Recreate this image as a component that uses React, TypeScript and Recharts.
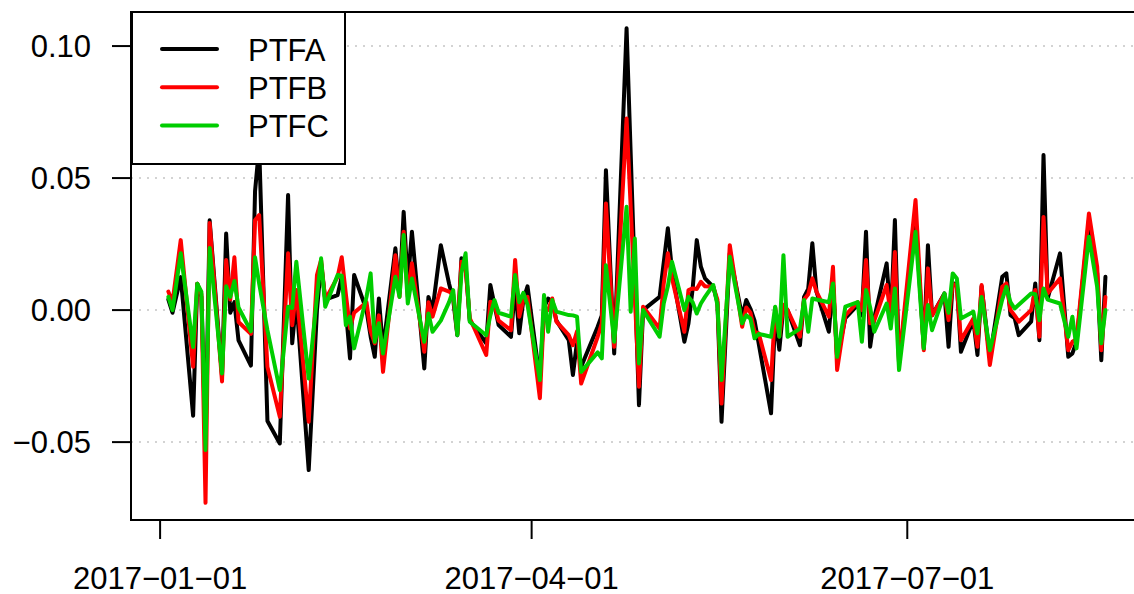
import React from 'react';
import { LineChart, Line, XAxis, YAxis, CartesianGrid, ReferenceArea, Legend } from 'recharts';

// observation days, counted from 2017-01-01 (day 0)
const obsDays = [
  2, 3, 5, 8, 9, 10, 11, 12, 15, 16, 17, 18, 19, 22, 23, 24,
  26, 29, 31, 32, 33, 36, 38, 39, 40, 43, 44, 45, 46, 47, 50, 51, 52, 53, 54,
  57, 58, 59, 60, 61, 64, 65, 66, 68, 70, 71, 72, 73, 74, 75, 79, 80, 81, 82, 85, 86, 87, 88, 89,
  92, 93, 94, 95, 96, 99, 100, 101, 102, 106, 107, 108, 110, 113, 114, 115, 116, 117,
  121, 122, 123, 124, 127, 128, 129, 130, 131, 132, 134, 135, 136, 138, 141, 142, 143, 144, 145, 148, 149, 150, 151, 152,
  155, 156, 157, 158, 159, 162, 163, 164, 166, 169, 170, 171, 172, 173, 176, 177, 178, 179, 183,
  185, 186, 187, 190, 191, 192, 193, 194, 197, 198, 199, 201, 204, 205, 206, 207, 208, 211, 212, 213, 214, 215,
  218, 220, 221, 222, 225, 227, 228, 229,
];

const ptfa = [
  0.004, -0.001, 0.0125, -0.04, 0.01, 0.005, -0.05, 0.034, -0.025, 0.029, -0.001, 0.003, -0.0115, -0.021, 0.045, 0.062,
  -0.042, -0.0505, 0.0436, -0.0126, 0.004, -0.0606, 0.0, 0.0177, 0.004, 0.0057, 0.0126, 0.0, -0.0183, 0.0133, 0.0, -0.01, -0.0177, 0.0044, -0.015,
  0.0234, 0.0064, 0.0372, 0.01, 0.0297, -0.0221, 0.005, 0.0, 0.0246, 0.01, 0.004, -0.0095, 0.0196, 0.017, -0.0038, -0.0126, 0.0095, 0.002, -0.0057, -0.0101, 0.009, -0.0088, 0.004, 0.009,
  -0.0265, 0.001, 0.0044, 0.003, -0.004, -0.0114, -0.0246, -0.012, -0.0215, -0.0063, -0.002, 0.053, -0.0164, 0.1067, 0.059, 0.012, -0.036, 0.0,
  0.005, 0.018, 0.031, 0.015, -0.012, -0.005, 0.008, 0.0265, 0.0164, 0.012, 0.0088, 0.003, -0.0423, 0.0215, -0.0025, 0.0038, 0.0005, -0.004, -0.0126, -0.0391, -0.002, -0.015, 0.0013, 0.0,
  -0.0133, 0.005, 0.008, 0.0253, 0.007, -0.0082, 0.01, -0.018, -0.003, 0.002, -0.002, 0.0297, -0.0139, -0.003, 0.0177, -0.004, 0.0341, -0.02, 0.035,
  -0.0145, 0.0246, -0.002, 0.0063, -0.0139, 0.0101, 0.01, -0.0158, -0.0038, -0.017, 0.009, -0.018, 0.0126, 0.0139, -0.0019, -0.003, -0.0095, -0.0044, 0.0101, -0.0114, 0.0587, 0.0044,
  0.0215, -0.0177, -0.0164, -0.012, 0.034, 0.0139, -0.019, 0.0126,
];

const ptfb = [
  0.007, 0.003, 0.0265, -0.0215, 0.01, 0.006, -0.073, 0.033, -0.027, 0.019, 0.004, 0.02, -0.0045, -0.009, 0.034, 0.036,
  -0.0215, -0.0404, 0.0215, -0.0057, 0.0076, -0.0423, 0.0133, 0.019, 0.0038, 0.0126, 0.02, 0.006, -0.007, -0.001, 0.003, -0.008, -0.0126, -0.002, -0.0234,
  0.0208, 0.005, 0.0297, 0.005, 0.0177, -0.0158, 0.003, -0.0025, 0.0082, 0.007, 0.006, -0.009, 0.0183, 0.016, -0.003, -0.017, 0.0032, 0.002, -0.004, -0.0076, 0.019, -0.0025, 0.004, 0.005,
  -0.0334, 0.0, 0.0, 0.0044, -0.0044, -0.0095, -0.0133, -0.008, -0.0278, -0.0101, -0.005, 0.0404, -0.0139, 0.0726, 0.039, 0.005, -0.029, 0.0013,
  -0.007, 0.01, 0.0215, 0.012, -0.0082, 0.0076, 0.0082, 0.008, 0.0107, 0.009, 0.0088, 0.004, -0.0354, 0.0246, -0.0063, 0.001, -0.001, -0.0082, -0.0088, -0.0265, 0.001, -0.01, 0.002, 0.0,
  -0.0101, 0.004, 0.006, 0.012, 0.007, -0.0025, 0.0164, -0.0227, -0.002, 0.003, 0.0, 0.019, -0.005, -0.004, 0.0095, -0.002, 0.022, -0.02, 0.0417,
  -0.0152, 0.0158, -0.002, 0.006, -0.0038, 0.01, 0.009, -0.0114, -0.0032, -0.0139, 0.0095, -0.0208, 0.0088, 0.0101, 0.0, -0.002, -0.0044, 0.0, 0.0076, -0.0101, 0.0353, 0.0063,
  0.012, -0.0152, -0.012, -0.011, 0.0366, 0.0164, -0.0152, 0.005,
];

const ptfc = [
  0.005, 0.0, 0.0215, -0.014, 0.01, 0.007, -0.053, 0.0235, -0.024, 0.009, 0.005, 0.011, 0.001, -0.008, 0.02, 0.01,
  -0.0076, -0.0303, 0.0013, 0.0008, 0.0183, -0.0259, 0.005, 0.0196, 0.0013, 0.0133, 0.013, -0.0057, -0.0025, -0.0145, 0.005, 0.0139, -0.012, -0.005, -0.0164,
  0.0126, 0.005, 0.0284, 0.0025, 0.012, -0.012, -0.0013, -0.0082, -0.004, 0.003, 0.0076, -0.0095, 0.014, 0.0215, -0.0044, -0.0095, -0.002, 0.0038, -0.001, -0.0025, 0.0133, 0.003, 0.0065, 0.002,
  -0.0265, 0.0057, -0.0082, 0.0038, -0.0006, -0.0019, -0.002, -0.0025, -0.0234, -0.016, -0.0183, 0.017, -0.012, 0.0391, -0.0006, 0.0271, -0.0202, 0.0,
  -0.0101, 0.0025, 0.009, 0.0183, 0.0, 0.005, 0.003, -0.0013, 0.0025, 0.005, 0.0095, 0.002, -0.0265, 0.0202, -0.005, -0.002, -0.0032, -0.0107, -0.009, -0.0101, 0.0013, -0.0101, 0.0208, -0.0101,
  -0.007, 0.0038, -0.0082, 0.0044, 0.004, 0.003, 0.0101, -0.0177, 0.0013, 0.003, -0.012, 0.0076, 0.001, -0.0082, 0.0025, -0.007, 0.0082, -0.0227, 0.0297,
  -0.0145, 0.0019, -0.0076, 0.0063, -0.001, 0.0139, 0.012, -0.0032, -0.0006, -0.0088, 0.005, -0.0152, 0.004, 0.0088, 0.003, 0.0006, 0.002, 0.0063, 0.006, -0.0038, 0.0082, 0.004,
  0.0025, -0.0101, -0.0025, -0.0145, 0.0278, 0.0088, -0.0126, 0.0,
];

const seriesNames = ['PTFA', 'PTFB', 'PTFC'];
const seriesColors = ['#000000', '#ff0000', '#00cd00'];

const xTickDays = [0, 90, 181];
const xTickLabels = ['2017\u221201\u221201', '2017\u221204\u221201', '2017\u221207\u221201'];
const yTicks = [-0.05, 0, 0.05, 0.1];
const yTickLabels = ['\u22120.05', '0.00', '0.05', '0.10'];

const X_DOMAIN = [-7.05, 238.1];
const Y_DOMAIN = [-0.0795, 0.1129];
const FONT = '"Liberation Sans", Arial, Helvetica, sans-serif';
const FONT_SIZE = 31;

const rows = obsDays.map((day, i) => ({
  day,
  PTFA: ptfa[i],
  PTFB: ptfb[i],
  PTFC: ptfc[i],
}));

const LegendBox = () => (
  <svg width={215} height={154} style={{ display: 'block' }}>
    <rect x={1} y={1} width={213} height={152} fill="#ffffff" stroke="#000000" strokeWidth={2} />
    {seriesNames.map((name, i) => (
      <g key={name}>
        <line
          x1={31}
          x2={86}
          y1={38 + i * 38.3}
          y2={38 + i * 38.3}
          stroke={seriesColors[i]}
          strokeWidth={4}
          strokeLinecap="round"
        />
        <text x={117} y={49.5 + i * 38.3} fontSize={FONT_SIZE} fontFamily={FONT} fill="#000000">
          {name}
        </text>
      </g>
    ))}
  </svg>
);

export default function App() {
  return (
    <div style={{ position: 'absolute', left: 0, top: 0, width: 1134, height: 594, overflow: 'hidden', background: '#fff' }}>
      <LineChart
        width={1160}
        height={594}
        data={rows}
        margin={{ top: 12, right: 17, bottom: 0, left: 0 }}
      >
        <CartesianGrid
          vertical={false}
          stroke="#d3d3d3"
          strokeWidth={2}
          strokeDasharray="2 6"
        />
        <XAxis
          dataKey="day"
          type="number"
          domain={X_DOMAIN}
          allowDataOverflow
          ticks={xTickDays}
          interval={0}
          tickFormatter={(v: number) => xTickLabels[xTickDays.indexOf(v)] ?? ''}
          height={74}
          tickSize={19}
          tickMargin={28}
          axisLine={false}
          tickLine={{ stroke: '#000', strokeWidth: 2 }}
          tick={{ fill: '#000', fontSize: FONT_SIZE, fontFamily: FONT }}
        />
        <YAxis
          type="number"
          domain={Y_DOMAIN}
          allowDataOverflow
          ticks={yTicks}
          interval={0}
          tickFormatter={(v: number) => yTickLabels[yTicks.indexOf(v)] ?? ''}
          width={131}
          tickSize={19}
          tickMargin={21}
          axisLine={false}
          tickLine={{ stroke: '#000', strokeWidth: 2 }}
          tick={{ fill: '#000', fontSize: FONT_SIZE, fontFamily: FONT }}
        />
        <ReferenceArea
          x1={X_DOMAIN[0]}
          x2={X_DOMAIN[1]}
          y1={Y_DOMAIN[0]}
          y2={Y_DOMAIN[1]}
          ifOverflow="visible"
          fill="none"
          stroke="#000"
          strokeWidth={2}
        />
        {seriesNames.map((name, i) => (
          <Line
            key={name}
            dataKey={name}
            type="linear"
            stroke={seriesColors[i]}
            strokeWidth={4}
            strokeLinejoin="round"
            strokeLinecap="round"
            dot={false}
            activeDot={false}
            isAnimationActive={false}
          />
        ))}
        <Legend
          layout="vertical"
          align="center"
          verticalAlign="middle"
          wrapperStyle={{ left: 131, top: 11, width: 215, height: 154 }}
          content={() => <LegendBox />}
        />
      </LineChart>
    </div>
  );
}
